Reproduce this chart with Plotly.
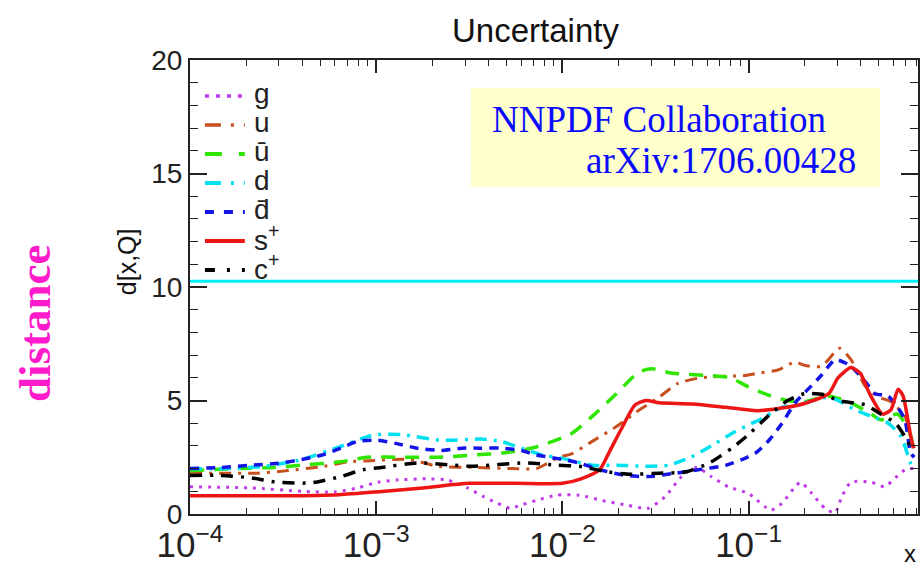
import numpy as np
import plotly.graph_objects as go

# ---- data (log10 x, distance) ----
g_lx = [-4.0, -3.67, -3.40, -3.22, -3.10, -2.99, -2.89, -2.73, -2.62, -2.51, -2.42, -2.35, -2.28, -2.22, -2.14, -2.03,
        -1.91, -1.79, -1.66, -1.54, -1.45, -1.36, -1.28, -1.20, -1.11, -1.0, -0.88, -0.82, -0.75, -0.72, -0.66, -0.59,
        -0.535, -0.50, -0.45, -0.34, -0.27, -0.21, -0.16, -0.115]
g_d = [1.2, 1.15, 1.0, 0.97, 1.15, 1.4, 1.5, 1.55, 1.5, 1.15, 0.75, 0.48, 0.25, 0.4, 0.6, 0.83,
       0.83, 0.6, 0.4, 0.25, 0.75, 1.65, 2.05, 1.65, 1.2, 0.9, 0.17, 0.48, 1.2, 1.4, 0.9, 0.25,
       0.05, 0.75, 1.4, 1.4, 1.2, 1.6, 1.95, 2.0]

u_lx = [-4.0, -3.63, -3.49, -3.28, -3.15, -3.03, -2.82, -2.67, -2.46, -2.27, -2.14, -2.02, -1.95, -1.84, -1.71, -1.61,
        -1.48, -1.38, -1.26, -1.18, -1.02, -0.95, -0.84, -0.75, -0.70, -0.61, -0.51, -0.45, -0.37, -0.30, -0.235,
        -0.16, -0.13, -0.11]
u_d = [1.8, 1.8, 1.9, 2.1, 2.3, 2.35, 2.4, 2.1, 2.05, 2.0, 2.0, 2.5, 2.65, 3.2, 3.85, 4.45,
       5.15, 5.75, 6.0, 6.05, 6.1, 6.2, 6.35, 6.7, 6.55, 6.5, 7.3, 6.8, 5.6, 5.15, 4.95,
       4.3, 3.4, 2.9]

ubar_lx = [-4.0, -3.76, -3.55, -3.40, -3.19, -3.05, -2.85, -2.67, -2.47, -2.31, -2.14, -1.95, -1.84, -1.71, -1.59,
           -1.52, -1.41, -1.21, -1.10, -1.0, -0.88, -0.79, -0.70, -0.57, -0.45, -0.34, -0.29, -0.20, -0.14, -0.115]
ubar_d = [1.9, 2.0, 2.05, 2.15, 2.3, 2.5, 2.5, 2.5, 2.6, 2.7, 2.95, 3.55, 4.3, 5.3, 6.25,
          6.4, 6.2, 6.1, 6.0, 5.6, 5.2, 5.0, 4.95, 5.2, 4.9, 4.4, 4.15, 4.4, 3.7, 3.0]

d_lx = [-4.0, -3.8, -3.6, -3.4, -3.2, -3.05, -2.99, -2.87, -2.65, -2.44, -2.33, -2.22, -2.11, -2.0, -1.84, -1.70,
        -1.55, -1.43, -1.31, -1.20, -1.09, -0.98, -0.94, -0.82, -0.70, -0.57, -0.52, -0.43, -0.34, -0.25, -0.18,
        -0.13, -0.11]
d_d = [2.0, 2.0, 2.1, 2.4, 2.95, 3.4, 3.5, 3.5, 3.25, 3.3, 3.2, 2.9, 2.6, 2.45, 2.15, 2.15,
       2.1, 2.15, 2.5, 3.0, 3.55, 4.0, 4.15, 4.7, 4.9, 5.15, 5.0, 4.6, 4.3, 4.0, 3.4,
       2.25, 2.0]

dbar_lx = [-4.0, -3.83, -3.67, -3.51, -3.40, -3.29, -3.19, -3.10, -2.99, -2.89, -2.78, -2.65, -2.54, -2.44, -2.33,
           -2.22, -2.14, -2.03, -1.91, -1.80, -1.66, -1.54, -1.39, -1.27, -1.12, -1.02, -0.96, -0.89, -0.82, -0.75,
           -0.68, -0.61, -0.535, -0.48, -0.43, -0.37, -0.32, -0.25, -0.20, -0.16, -0.13, -0.11]
dbar_d = [2.0, 2.05, 2.15, 2.25, 2.4, 2.6, 2.9, 3.2, 3.25, 3.1, 2.9, 2.8, 2.9, 2.9, 2.9,
          2.8, 2.6, 2.45, 2.25, 1.95, 1.7, 1.65, 1.8, 1.95, 2.15, 2.45, 2.7, 3.25, 4.0, 4.9,
          5.5, 6.1, 6.8, 6.65, 6.35, 5.8, 5.3, 5.2, 4.7, 4.15, 2.7, 2.5]

splus_lx = [-4.0, -3.5, -3.2, -3.0, -2.75, -2.5, -2.25, -2.0, -1.9, -1.8, -1.75, -1.68, -1.61, -1.55, -1.48, -1.3,
            -1.12, -0.95, -0.73, -0.57, -0.52, -0.45, -0.40, -0.35, -0.28, -0.235, -0.197, -0.17, -0.133, -0.115]
splus_d = [0.8, 0.8, 0.85, 0.97, 1.15, 1.35, 1.35, 1.35, 1.55, 1.95, 2.7, 3.8, 4.8, 5.0, 4.9, 4.85,
           4.7, 4.55, 4.8, 5.3, 6.0, 6.45, 6.2, 5.3, 4.4, 4.6, 5.5, 5.2, 3.6, 2.9]

cplus_lx = [-4.0, -3.84, -3.68, -3.53, -3.35, -3.19, -3.07, -2.97, -2.78, -2.58, -2.49, -2.2, -2.03, -1.91, -1.75,
            -1.63, -1.48, -1.34, -1.21, -1.09, -1.0, -0.89, -0.79, -0.70, -0.59, -0.52, -0.37, -0.29, -0.21, -0.16,
            -0.13, -0.11]
cplus_d = [1.7, 1.7, 1.6, 1.4, 1.37, 1.65, 1.95, 2.05, 2.25, 2.15, 2.1, 2.25, 2.15, 2.1, 1.85,
           1.75, 1.8, 1.85, 2.25, 2.9, 3.5, 4.35, 5.0, 5.3, 5.25, 5.0, 4.8, 4.4, 4.0, 3.4,
           2.95, 2.8]

threshold = 10.25
labels = ["g", "u", "ū", "d", "d\u0304", "s<sup>+</sup>", "c<sup>+</sup>"]

# (data, colour, dash in plot, dash in legend sample, width)
series = [
    (g_lx, g_d, "#c03ae8", "3px,6px", "4px,7px", 3),
    (u_lx, u_d, "#c8501e", "12px,7px,3px,7px", "16px,10px,3px,10px", 3),
    (ubar_lx, ubar_d, "#2ee600", "14px,10px", "17px,17px", 3.5),
    (d_lx, d_d, "#00e1f0", "12px,7px,3px,7px", "16px,10px,3px,10px", 3.5),
    (dbar_lx, dbar_d, "#1414e6", "9px,7px", "9px,10px", 3.5),
    (splus_lx, splus_d, "#ee1515", "solid", "solid", 3.5),
    (cplus_lx, cplus_d, "#000000", "12px,8px,3px,8px", "10px,12px,3px,12px", 3.5),
]

fig = go.Figure()
for (lx, dv, col, dash, _ld, w), name in zip(series, labels):
    fig.add_trace(go.Scatter(
        x=np.power(10.0, np.array(lx)), y=dv, mode="lines", name=name, showlegend=False,
        line=dict(color=col, dash=dash, width=w, shape="spline", smoothing=0.6),
    ))

fig.add_shape(type="line", xref="paper", yref="y", x0=0, x1=1, y0=threshold, y1=threshold,
              line=dict(color="#00f0f5", width=3), layer="above")

fig.add_shape(type="rect", xref="paper", yref="paper", x0=0.386, x1=0.948, y0=0.720, y1=0.938,
              fillcolor="#ffffcc", line=dict(width=0), layer="below")

font_sans = "Liberation Sans, Arial, sans-serif"
font_serif = "Liberation Serif, Times New Roman, serif"

# manual legend (layout positions in paper coordinates)
leg_top = 0.9207
leg_step = 0.0639
for i, ((_lx, _dv, col, _dash, ldash, w), name) in enumerate(zip(series, labels)):
    yy = leg_top - i * leg_step
    fig.add_shape(type="line", xref="paper", yref="paper", x0=0.0205, x1=0.0753, y0=yy, y1=yy,
                  line=dict(color=col, dash=ldash, width=w + 0.5))
    fig.add_annotation(text=name, xref="paper", yref="paper", x=0.0849, y=yy + 0.006, showarrow=False,
                       xanchor="left", yanchor="middle",
                       font=dict(family=font_sans, size=28, color="#222"))

fig.update_layout(
    width=922, height=566,
    margin=dict(l=190, r=2, t=60, b=52),
    paper_bgcolor="white", plot_bgcolor="white",
    showlegend=False,
    xaxis=dict(type="log", range=[-4, -0.09], dtick=1, exponentformat="power", showexponent="all",
               ticks="inside", ticklen=13, tickwidth=1.5, tickcolor="#222",
               showline=True, linecolor="#222", linewidth=2, mirror="allticks",
               showgrid=False, zeroline=False,
               tickfont=dict(family=font_sans, size=28, color="#222"),
               minor=dict(ticks="inside", ticklen=6, tickwidth=1.2, tickcolor="#222", showgrid=False)),
    yaxis=dict(range=[0, 20], dtick=5, ticks="inside", ticklen=17, tickwidth=1.5, tickcolor="#222",
               showline=True, linecolor="#222", linewidth=2, mirror="allticks",
               showgrid=False, zeroline=False,
               tickfont=dict(family=font_sans, size=28, color="#222"),
               minor=dict(dtick=1, ticks="inside", ticklen=8, tickwidth=1.2, tickcolor="#222", showgrid=False)),
)

fig.add_annotation(text="Uncertainty", xref="paper", yref="paper", x=0.475, y=1.066, showarrow=False,
                   font=dict(family=font_sans, size=33, color="#111"), xanchor="center", yanchor="middle")
fig.add_annotation(text="d[x,Q]", xref="paper", yref="paper", x=-0.0863, y=0.555, showarrow=False,
                   textangle=-90, font=dict(family=font_sans, size=25, color="#111"),
                   xanchor="center", yanchor="middle")
fig.add_annotation(text="<b>distance</b>", xref="paper", yref="paper", x=-0.212, y=0.42, showarrow=False,
                   textangle=-90, font=dict(family=font_serif, size=45, color="#ff1acb"),
                   xanchor="center", yanchor="middle")
fig.add_annotation(text="x", xref="paper", yref="paper", x=0.989, y=-0.086, showarrow=False,
                   font=dict(family=font_sans, size=24, color="#111"), xanchor="center", yanchor="middle")
fig.add_annotation(text="NNPDF Collaboration", xref="paper", yref="paper", x=0.412, y=0.870, showarrow=False,
                   font=dict(family=font_serif, size=37, color="#0a0aff"), xanchor="left", yanchor="middle")
fig.add_annotation(text="arXiv:1706.00428", xref="paper", yref="paper", x=0.918, y=0.778, showarrow=False,
                   font=dict(family=font_serif, size=37, color="#0a0aff"), xanchor="right", yanchor="middle")

fig.write_html("out.html")
